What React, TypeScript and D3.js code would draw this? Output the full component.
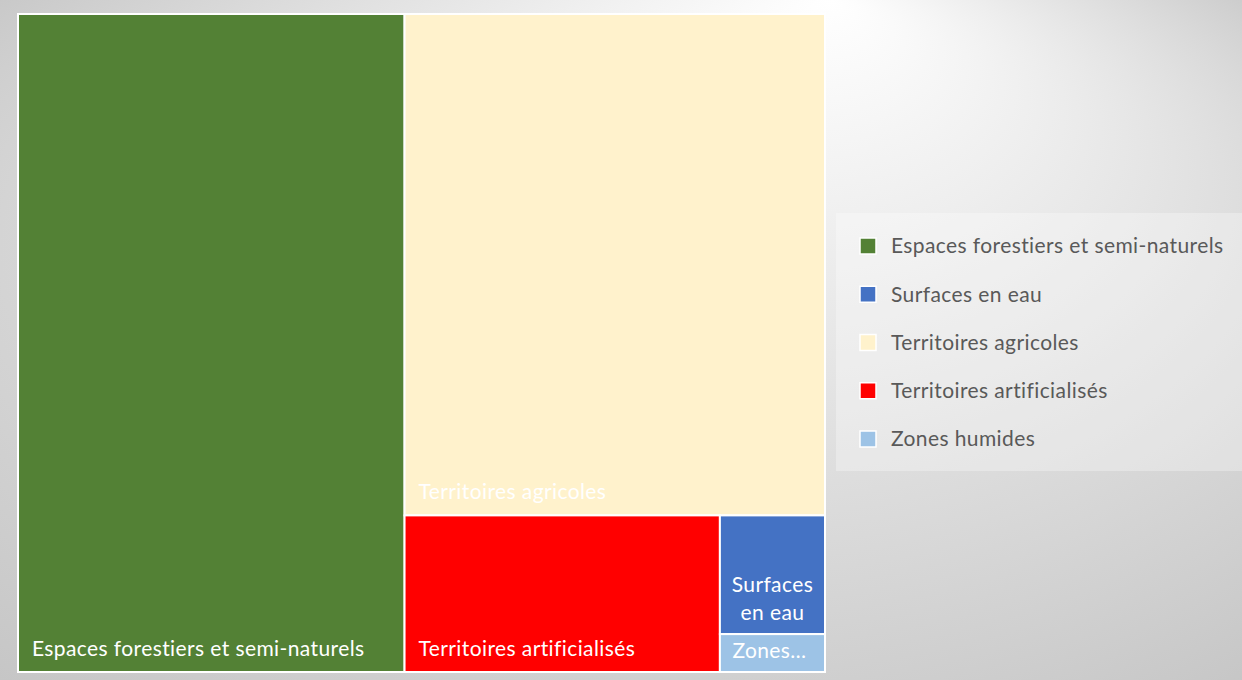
import React, { useEffect, useRef } from 'react';
import * as d3 from 'd3';

const categories = [
  'Espaces forestiers et semi-naturels',
  'Surfaces en eau',
  'Territoires agricoles',
  'Territoires artificialisés',
  'Zones humides',
];
// share of surface (%)
const values = [47.9, 2.35, 39.7, 9.3, 0.75];
const colors = ['#538135', '#4472c4', '#fff2cc', '#ff0000', '#9dc3e6'];

const W = 1242;
const H = 680;
const FONT = 'Lato, "Open Sans", sans-serif';
const FS = 21;
const LS = 0.4;

export default function App() {
  const svgRef = useRef<SVGSVGElement>(null);

  useEffect(() => {
    if (!svgRef.current) return;
    const svg = d3.select(svgRef.current);
    svg.selectAll('*').remove();

    // background
    const defs = svg.append('defs');
    const bg = defs.append('radialGradient')
      .attr('id', 'bg-grad')
      .attr('cx', 0.5).attr('cy', 0.5).attr('r', 0.75)
      .attr('fx', 0.67).attr('fy', 0.0);
    bg.append('stop').attr('offset', '0%').attr('stop-color', '#ffffff');
    bg.append('stop').attr('offset', '100%').attr('stop-color', '#c4c4c4');
    svg.append('rect').attr('width', W).attr('height', H).attr('fill', 'url(#bg-grad)');

    // treemap
    const plot = { x: 18, y: 14, w: 807, h: 658 };
    const root = d3.hierarchy({ children: categories.map((c, i) => ({ name: c, value: values[i], color: colors[i] })) } as any)
      .sum((d: any) => d.value || 0)
      .sort((a, b) => (b.value ?? 0) - (a.value ?? 0));

    d3.treemap<any>()
      .size([plot.w, plot.h])
      .tile(d3.treemapSquarify.ratio(1))(root);

    const g = svg.append('g').attr('transform', `translate(${plot.x},${plot.y})`);
    const leaves = root.leaves() as any[];

    const cell = g.selectAll('g.cell').data(leaves).enter().append('g').attr('class', 'cell');
    cell.append('rect')
      .attr('x', d => d.x0).attr('y', d => d.y0)
      .attr('width', d => d.x1 - d.x0).attr('height', d => d.y1 - d.y0)
      .attr('fill', d => d.data.color)
      .attr('stroke', '#ffffff').attr('stroke-width', 2);

    cell.each(function (d: any) {
      const sel = d3.select(this);
      const cw = d.x1 - d.x0;
      const ch = d.y1 - d.y0;
      const t = sel.append('text')
        .attr('font-family', FONT).attr('font-size', FS).attr('letter-spacing', LS).attr('fill', '#ffffff')
        .attr('x', d.x0 + 14).attr('y', d.y1 - 16)
        .text(d.data.name);
      const tw = (t.node() as SVGTextElement).getComputedTextLength();
      if (tw <= cw - 20) return;
      const words = d.data.name.split(' ');
      // wrap into lines
      const lines: string[] = [];
      let cur = '';
      words.forEach((w: string) => {
        const test = cur ? cur + ' ' + w : w;
        t.text(test);
        if ((t.node() as SVGTextElement).getComputedTextLength() > cw - 16 && cur) {
          lines.push(cur);
          cur = w;
        } else cur = test;
      });
      if (cur) lines.push(cur);
      const lh = 28;
      t.text(null).attr('text-anchor', 'middle');
      const cx = (d.x0 + d.x1) / 2;
      if (lines.length * lh > ch - 10) {
        t.attr('x', cx - 3).attr('y', d.y1 - 14).text(lines[0] + '…');
        return;
      }
      lines.forEach((ln, i) => {
        t.append('tspan')
          .attr('x', cx)
          .attr('y', d.y1 - 14 - (lines.length - 1 - i) * lh)
          .text(ln);
      });
    });

    // legend
    const lg = svg.append('g');
    lg.append('rect')
      .attr('x', 836).attr('y', 213).attr('width', W - 836).attr('height', 258)
      .attr('fill', '#ffffff').attr('fill-opacity', 0.3);
    const rowY = d3.scalePoint<string>().domain(categories).range([246, 439]);
    const items = lg.selectAll('g.item').data(categories).enter().append('g').attr('class', 'item')
      .attr('transform', d => `translate(0,${rowY(d)})`);
    items.append('rect')
      .attr('x', 860).attr('y', -8).attr('width', 16).attr('height', 16)
      .attr('fill', (_, i) => colors[i])
      .attr('stroke', '#ffffff').attr('stroke-width', 1.5);
    items.append('text')
      .attr('x', 891).attr('y', 0).attr('dy', '0.35em')
      .attr('font-family', FONT).attr('font-size', FS).attr('letter-spacing', LS).attr('fill', '#595959')
      .text(d => d);
  }, []);

  return (
    <svg ref={svgRef} width={W} height={H} style={{ position: 'absolute', left: 0, top: 0 }} />
  );
}
